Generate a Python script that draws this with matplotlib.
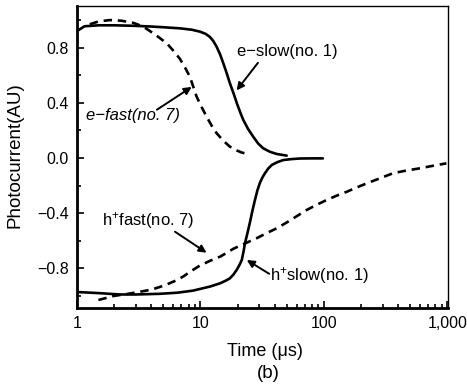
import matplotlib
matplotlib.use("Agg")
import matplotlib.pyplot as plt
from matplotlib.ticker import FixedLocator, NullFormatter

plt.rcParams['font.family'] = ['Liberation Sans', 'DejaVu Sans']
plt.rcParams['mathtext.fontset'] = 'custom'
plt.rcParams['mathtext.rm'] = 'Liberation Sans'
plt.rcParams['mathtext.it'] = 'Liberation Sans:italic'

# ---- data (time in microseconds, photocurrent in AU) ----
e_slow_t = [1, 1.15, 1.5, 2, 3, 4, 5, 6.8, 8.5, 9.9, 11.0, 11.9, 12.7, 13.5, 14.4, 15.3, 16.3, 17.3, 18.5, 19.7, 21.0, 22.2, 24.3, 26.7, 29.3, 32.2, 36.5, 41.4, 49.9]
e_slow_y = [0.92, 0.955, 0.962, 0.962, 0.958, 0.953, 0.948, 0.94, 0.93, 0.916, 0.90, 0.878, 0.848, 0.807, 0.752, 0.687, 0.615, 0.542, 0.47, 0.397, 0.33, 0.276, 0.21, 0.155, 0.105, 0.07, 0.045, 0.029, 0.017]

e_fast_t = [1.27, 1.5, 1.85, 2.3, 2.85, 3.4, 3.9, 4.6, 5.35, 6.0, 6.8, 7.5, 8.2, 9.3, 10.2, 11.2, 12.3, 13.5, 15.3, 17.3, 19.6, 21.5, 23.7]
e_fast_y = [0.97, 0.99, 1.0, 0.995, 0.98, 0.955, 0.92, 0.875, 0.83, 0.78, 0.72, 0.655, 0.59, 0.445, 0.37, 0.30, 0.235, 0.18, 0.125, 0.082, 0.055, 0.04, 0.03]

h_slow_t = [1, 1.5, 2.23, 3, 4.7, 6.5, 8.7, 9.9, 12, 14.4, 16, 17.3, 18.5, 19.7, 20.7, 21.6, 22.3, 22.9, 24.0, 25.1, 26.3, 27.6, 28.9, 30.3, 31.8, 33.3, 35.5, 37.9, 42, 46.9, 55, 63.7, 80, 98]
h_slow_y = [-0.972, -0.98, -0.99, -0.99, -0.985, -0.977, -0.962, -0.95, -0.932, -0.909, -0.89, -0.873, -0.845, -0.81, -0.775, -0.74, -0.68, -0.62, -0.545, -0.47, -0.385, -0.305, -0.235, -0.18, -0.14, -0.11, -0.075, -0.05, -0.03, -0.015, -0.008, -0.004, -0.003, -0.003]

h_fast_t = [1.49, 2, 2.6, 3.24, 4.0, 4.7, 5.5, 6.4, 7.3, 8.2, 9.9, 12, 14.4, 16.3, 18.5, 22, 28.5, 34, 41.4, 49.9, 60, 72.5, 88, 105, 127, 153, 185, 222, 270, 364, 460, 598, 760, 980]
h_fast_y = [-1.03, -1.0, -0.985, -0.97, -0.955, -0.935, -0.912, -0.887, -0.858, -0.826, -0.78, -0.745, -0.716, -0.688, -0.658, -0.627, -0.582, -0.547, -0.51, -0.468, -0.423, -0.377, -0.338, -0.305, -0.273, -0.245, -0.213, -0.184, -0.155, -0.11, -0.092, -0.075, -0.057, -0.039]

x_ticks = [1, 10, 100, 1000]
x_ticklabels = ['1', '10', '100', '1,000']
y_ticks = [-0.8, -0.4, 0.0, 0.4, 0.8]
y_ticklabels = ['\u22120.8', '\u22120.4', '0.0', '0.4', '0.8']
y_minor = [-1.0, -0.6, -0.2, 0.2, 0.6, 1.0]

fig = plt.figure(figsize=(4.67, 3.85), dpi=100)
ax = fig.add_axes([77/467, 1-308/385, (448-77)/467, (308-6)/385])

lw = 1.9
ax.plot(e_slow_t, e_slow_y, color='black', lw=lw, solid_capstyle='round', solid_joinstyle='round')
ax.plot(h_slow_t, h_slow_y, color='black', lw=lw, solid_capstyle='round', solid_joinstyle='round')
ax.plot(e_fast_t, e_fast_y, color='black', lw=lw, dashes=(3.2, 2.2))
ax.plot(h_fast_t, h_fast_y, color='black', lw=lw, dashes=(3.2, 2.2))

ax.set_xscale('log')
ax.set_xlim(1, 1010)
ax.set_ylim(-1.088, 1.102)

ax.xaxis.set_major_locator(FixedLocator(x_ticks))
ax.set_xticklabels(x_ticklabels)
minors = [m * d for d in (1, 10, 100) for m in range(2, 10)]
ax.xaxis.set_minor_locator(FixedLocator(minors))
ax.xaxis.set_minor_formatter(NullFormatter())
ax.set_yticks(y_ticks)
ax.set_yticklabels(y_ticklabels)
ax.yaxis.set_minor_locator(FixedLocator(y_minor))

ax.tick_params(which='both', direction='in', top=False, right=False, labelsize=11.5, width=1.2)
ax.tick_params(which='major', length=5)
ax.tick_params(which='minor', length=3)
ax.tick_params(axis='x', pad=6)
ax.tick_params(axis='y', pad=6)

for s in ('left', 'bottom'):
    ax.spines[s].set_linewidth(2.0)
for s in ('top', 'right'):
    ax.spines[s].set_linewidth(1.0)

fig.text(15/467, 1-155/385, 'Photocurrent(AU)', rotation=90, ha='center', va='center', fontsize=13.5)
fig.text(265/467, 1-351/385, 'Time (\u03bcs)', ha='center', va='center', fontsize=13)
fig.text(268/467, 1-374/385, '(b)', ha='center', va='center', fontsize=13.5)

ap = dict(arrowstyle='-|>', color='black', lw=1.4, mutation_scale=11, shrinkA=0, shrinkB=0)
fs = 12
ax.text(19.8, 0.77, 'e\u2212slow(no. 1)', fontsize=fs, ha='left', va='center')
ax.annotate('', xy=(19.6, 0.49), xytext=(29.2, 0.69), arrowprops=ap)

ax.text(1.18, 0.31, 'e\u2212fast(no. 7)', fontsize=fs, style='italic', ha='left', va='center')
ax.annotate('', xy=(8.49, 0.515), xytext=(4.44, 0.35), arrowprops=ap)

ax.text(1.59, -0.45, r'h$^{+}$fast(no. 7)', fontsize=fs, ha='left', va='center')
ax.annotate('', xy=(11.2, -0.687), xytext=(6.22, -0.535), arrowprops=ap)

ax.text(36.5, -0.85, r'h$^{+}$slow(no. 1)', fontsize=fs, ha='left', va='center')
ax.annotate('', xy=(23.7, -0.74), xytext=(36.0, -0.84), arrowprops=ap)

fig.savefig('out.png', dpi=100)
